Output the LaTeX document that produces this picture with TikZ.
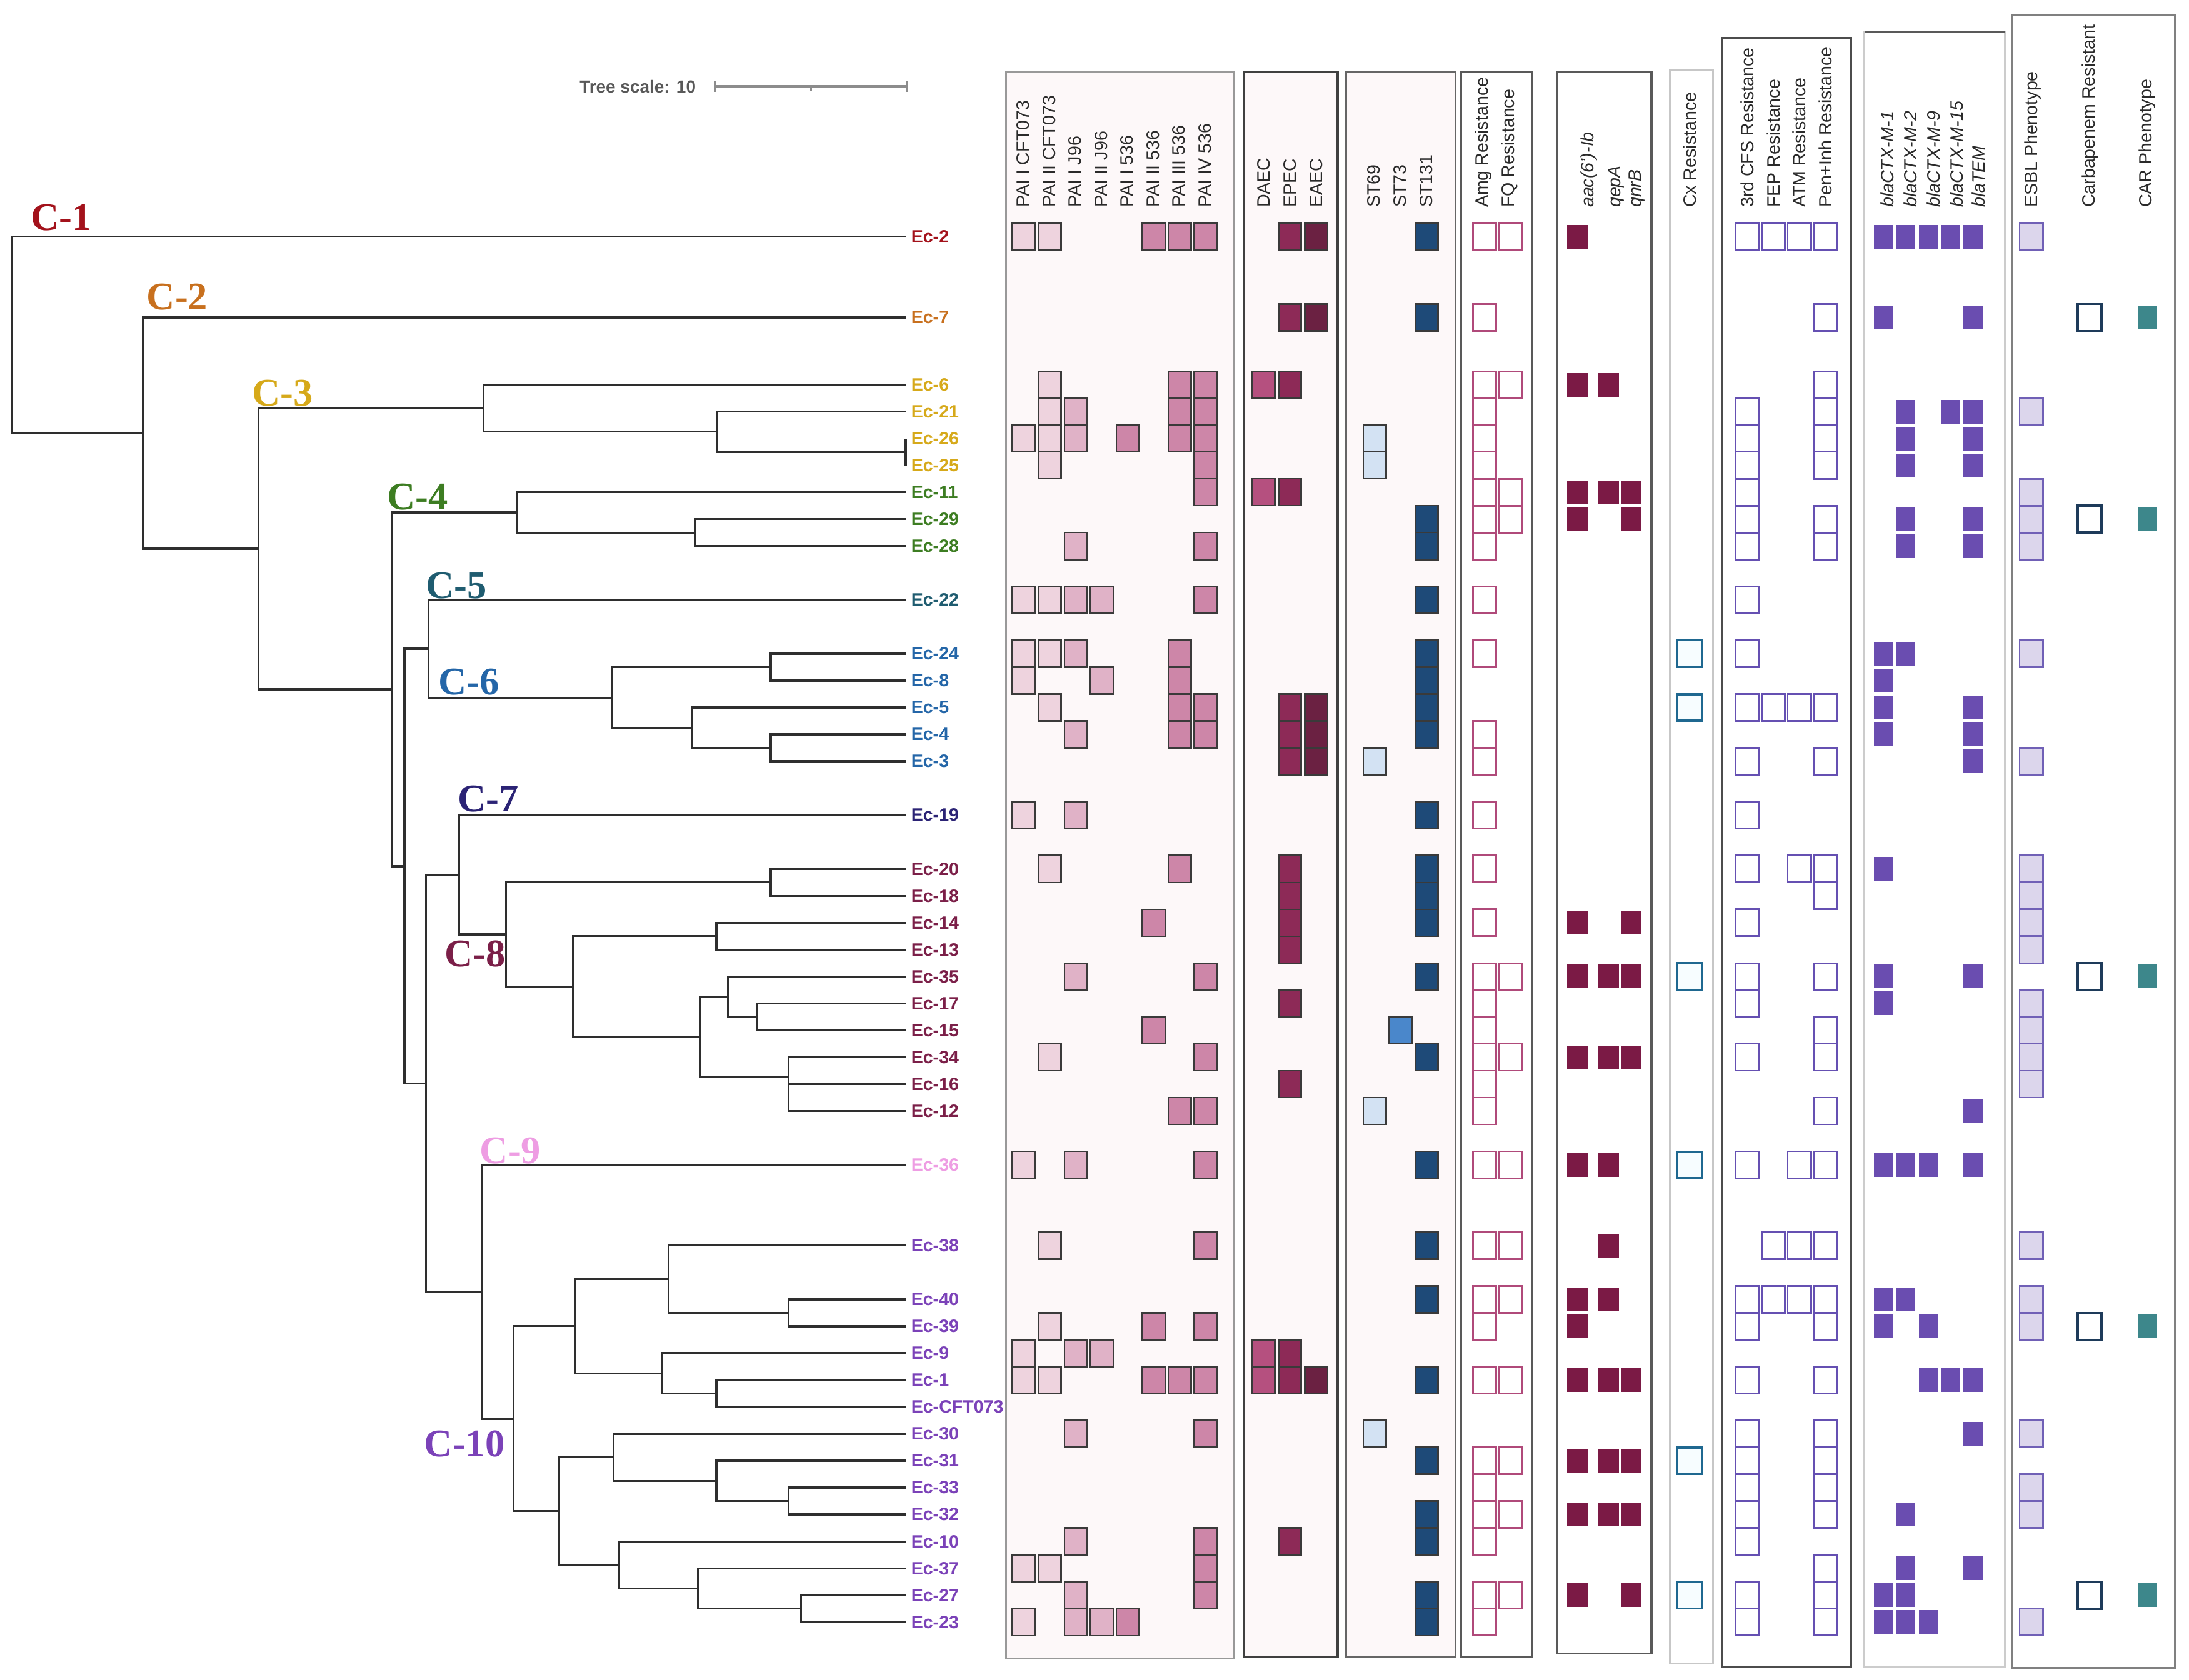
\documentclass[tikz,border=0pt]{standalone}
\usepackage{fontspec}
\setmainfont{Liberation Sans}
\newfontfamily\cserif{Liberation Serif}
\definecolor{treec}{HTML}{2E2E2E}
\definecolor{hdrc}{HTML}{2A2A2A}
\definecolor{cc1}{HTML}{A3121B}
\definecolor{cc2}{HTML}{C8701E}
\definecolor{cc3}{HTML}{D6A91A}
\definecolor{cc4}{HTML}{3D7D22}
\definecolor{cc5}{HTML}{1F5C70}
\definecolor{cc6}{HTML}{2466A8}
\definecolor{cc7}{HTML}{2B2375}
\definecolor{cc8}{HTML}{7B1F48}
\definecolor{cc9}{HTML}{EE9DE3}
\definecolor{cc10}{HTML}{7B42B8}
\definecolor{paiA}{HTML}{EED3DE}
\definecolor{paiB}{HTML}{E0B2C7}
\definecolor{paiC}{HTML}{CD86A8}
\definecolor{daec}{HTML}{B5507F}
\definecolor{epec}{HTML}{8D2A57}
\definecolor{eaec}{HTML}{6B2142}
\definecolor{stA}{HTML}{D3E2F3}
\definecolor{stB}{HTML}{4A87CB}
\definecolor{stC}{HTML}{1E4A78}
\definecolor{cellb}{HTML}{3A3A3A}
\definecolor{amgc}{HTML}{B04A7A}
\definecolor{genc}{HTML}{7B1A45}
\definecolor{cxc}{HTML}{1F6890}
\definecolor{resc}{HTML}{6550B2}
\definecolor{blac}{HTML}{6A4DB0}
\definecolor{esblf}{HTML}{DCD6EC}
\definecolor{esbld}{HTML}{7060B6}
\definecolor{carbd}{HTML}{1E3B5A}
\definecolor{carf}{HTML}{3D878B}
\definecolor{panfill}{HTML}{FDF8F9}
\begin{document}
\begin{tikzpicture}[x=1pt,y=-1pt,
  treeline/.style={line width=1.5pt, draw=treec},
  leaflab/.style={anchor=base west, inner sep=0pt, font=\fontsize{12.8}{14}\selectfont\bfseries},
  clab/.style={anchor=base west, inner sep=0pt, font=\cserif\bfseries\fontsize{28}{30}\selectfont},
  hdr/.style={rotate=90, anchor=west, inner sep=0pt, text=hdrc, font=\fontsize{12.8}{14}\selectfont},
  cellbox/.style={draw=cellb, line width=1.1pt, minimum width=16.3pt, minimum height=19.27pt, inner sep=0pt, fill=#1},
  openbox/.style={draw=#1, line width=1.2pt, fill=white, minimum width=16.7pt, minimum height=19.27pt, inner sep=0pt},
  solidbox/.style={fill=#1, draw=none, minimum width=14.7pt, minimum height=17pt, inner sep=0pt},
  panel/.style={draw=#1, line width=1.5pt}
]
\useasboundingbox (0,0) rectangle (1568,1203.5);
\fill[white] (0,0) rectangle (1568,1203.5);

% ---------- rows ----------
\foreach \n/\k in {2/-5.5, 7/-2.5, 6/0, 21/1, 26/2, 25/3, 11/4, 29/5, 28/6, 22/8, 24/10, 8/11, 5/12, 4/13, 3/14, 19/16, 20/18, 18/19, 14/20, 13/21, 35/22, 17/23, 15/24, 34/25, 16/26, 12/27, 36/29, 38/32, 40/34, 39/35, 9/36, 1/37, CFT/38, 30/39, 31/40, 33/41, 32/42, 10/43, 37/44, 27/45, 23/46}
  \coordinate (row\n) at (0,{275.6+19.27*\k});
\foreach \n in {2,7,6,21,26,25,11,29,28,22,24,8,5,4,3,19,20,18,14,13,35,17,15,34,16,12,36,38,40,39,9,1,CFT,30,31,33,32,10,37,27,23}
  \coordinate (t\n) at ([xshift=648.8pt]row\n);

% ---------- tree ----------
\coordinate (root) at (8.2,239.9);
\coordinate (n2) at (102.3,310.25);
\coordinate (n3) at (185,393.1);
\coordinate (n3a) at (346.3,292.35);
\coordinate (n3b) at (513.6,309.3);
\coordinate (n3c) at (648.8,323.78);
\coordinate (n4) at (281,493.8);
\coordinate (n4a) at (370,367.1);
\coordinate (n4b) at (498,381.6);
\coordinate (n5x) at (289.7,620.5);
\coordinate (n5) at (307,464.8);
\coordinate (n6) at (438.6,499.8);
\coordinate (n6a) at (552,477.9);
\coordinate (n6b) at (495.7,521.3);
\coordinate (n6c) at (552,535.75);
\coordinate (n7x) at (305.2,776.1);
\coordinate (n7) at (329,626.7);
\coordinate (n8) at (362.3,669.45);
\coordinate (n8a) at (552,632.1);
\coordinate (n8b) at (410.3,706.7);
\coordinate (n8c) at (513.1,670.6);
\coordinate (n8d) at (501.7,742.8);
\coordinate (n8e) at (521.3,714.2);
\coordinate (n8f) at (542.3,728.45);
\coordinate (n8g) at (564.7,771.6);
\coordinate (n9) at (345.4,925.4);
\coordinate (n10) at (367.8,1016.3);
\coordinate (n10a) at (412.1,950);
\coordinate (n10c) at (478.8,916.3);
\coordinate (n10e) at (564.7,940.4);
\coordinate (n10d) at (473.8,983.8);
\coordinate (n10f) at (513.1,998.2);
\coordinate (n10b) at (400.2,1082.5);
\coordinate (n10g) at (439.5,1044);
\coordinate (n10h) at (513.1,1060.85);
\coordinate (n10i) at (564.7,1075.3);
\coordinate (n10j) at (443.6,1121.1);
\coordinate (n10k) at (499.8,1137.9);
\coordinate (n10l) at (573.9,1152.4);
\foreach \p/\c in {root/t2, root/n2, n2/t7, n2/n3, n3/n3a, n3/n4, n3a/t6, n3a/n3b, n3b/t21, n3b/n3c, n3c/t26, n3c/t25,
  n4/n4a, n4/n5x, n4a/t11, n4a/n4b, n4b/t29, n4b/t28, n5x/n5, n5x/n7x, n5/t22, n5/n6, n6/n6a, n6/n6b, n6a/t24, n6a/t8,
  n6b/t5, n6b/n6c, n6c/t4, n6c/t3, n7x/n7, n7x/n9, n7/t19, n7/n8, n8/n8a, n8/n8b, n8a/t20, n8a/t18, n8b/n8c, n8b/n8d,
  n8c/t14, n8c/t13, n8d/n8e, n8d/n8g, n8e/t35, n8e/n8f, n8f/t17, n8f/t15, n8g/t34, n8g/t16, n8g/t12, n9/t36, n9/n10,
  n10/n10a, n10/n10b, n10a/n10c, n10a/n10d, n10c/t38, n10c/n10e, n10e/t40, n10e/t39, n10d/t9, n10d/n10f, n10f/t1, n10f/tCFT,
  n10b/n10g, n10b/n10j, n10g/t30, n10g/n10h, n10h/t31, n10h/n10i, n10i/t33, n10i/t32, n10j/t10, n10j/n10k, n10k/t37, n10k/n10l,
  n10l/t27, n10l/t23}
  \draw[treeline] (\p) |- (\c);

% leaf labels
\foreach \n/\c in {2/cc1, 7/cc2, 6/cc3, 21/cc3, 26/cc3, 25/cc3, 11/cc4, 29/cc4, 28/cc4, 22/cc5, 24/cc6, 8/cc6, 5/cc6, 4/cc6, 3/cc6, 19/cc7, 20/cc8, 18/cc8, 14/cc8, 13/cc8, 35/cc8, 17/cc8, 15/cc8, 34/cc8, 16/cc8, 12/cc8, 36/cc9, 38/cc10, 40/cc10, 39/cc10, 9/cc10, 1/cc10, 30/cc10, 31/cc10, 33/cc10, 32/cc10, 10/cc10, 37/cc10, 27/cc10, 23/cc10}
  \node[leaflab, text=\c] (lab\n) at ([xshift=652.5pt,yshift=-4.4pt]row\n) {Ec-\n};
\node[leaflab, text=cc10] (labCFT) at ([xshift=652.5pt,yshift=-4.4pt]rowCFT) {Ec-CFT073};

% clade labels
\node[clab, text=cc1] (C1) at (21.9,164.9) {C-1};
\node[clab, text=cc2] (C2) at (105,221.7) {C-2};
\node[clab, text=cc3] (C3) at (180.5,291) {C-3};
\node[clab, text=cc4] (C4) at (277,365) {C-4};
\node[clab, text=cc5] (C5) at (305,428.5) {C-5};
\node[clab, text=cc6] (C6) at (314,497.8) {C-6};
\node[clab, text=cc7] (C7) at (327.6,581.5) {C-7};
\node[clab, text=cc8] (C8) at (318.5,692.4) {C-8};
\node[clab, text=cc9] (C9) at (343.6,833.6) {C-9};
\node[clab, text=cc10] (C10) at (303.8,1043.5) {C-10};

% tree scale
\node[anchor=west, inner sep=0pt, text=black!65, font=\fontsize{12.5}{14}\selectfont\bfseries] (tslab) at (415,62) {Tree scale: 10};
\coordinate (ts0) at (512.6,62);
\coordinate (ts1) at (649.3,62);
\coordinate (tsm) at (580.8,62);
\draw[black!45, line width=1.8pt] (ts0) -- (ts1);
\draw[black!45, line width=1.3pt] ([yshift=4pt]ts0) -- ([yshift=-4pt]ts0);
\draw[black!45, line width=1.3pt] ([yshift=4pt]ts1) -- ([yshift=-4pt]ts1);
\draw[black!45, line width=1.3pt] (tsm) -- ([yshift=-3pt]tsm);

% ---------- panels ----------
\draw[panel=black!40, fill=panfill] (720.6,51.5) rectangle (884.2,1188.2);
\draw[panel=black!75, fill=panfill] (891,51.5) rectangle (958.2,1187.1);
\draw[panel=black!60, fill=panfill] (964,51.5) rectangle (1042.6,1187.1);
\draw[panel=black!65] (1046.6,51.5) rectangle (1097.5,1187.1);
\draw[panel=black!65] (1115,51.5) rectangle (1183,1184.6);
\draw[panel=black!22] (1196,50) rectangle (1227,1191.8);
\draw[panel=black!70] (1233.6,27) rectangle (1326,1193.9);
\draw[panel=black!20] (1335.5,23) rectangle (1436,1193.9);
\draw[black!65, line width=1.8pt] (1335.5,23) -- (1436,23);
\draw[panel=black!50] (1441.3,10.7) rectangle (1558,1194.9);

% ---------- headers ----------
\foreach \x/\t in {732.8/PAI I CFT073, 751.4/PAI II CFT073, 770/PAI I J96, 788.6/PAI II J96, 807.2/PAI I 536, 825.8/PAI II 536, 844.4/PAI III 536, 863/PAI IV 536, 905.3/DAEC, 923.9/EPEC, 942.6/EAEC, 983.8/ST69, 1002.8/ST73, 1021.4/ST131, 1062.6/Amg Resistance, 1081.3/FQ Resistance, 1210.5/Cx Resistance, 1251.5/3rd CFS Resistance, 1270.2/FEP Resistance, 1288.9/ATM Resistance, 1307.7/Pen+Inh Resistance, 1456/ESBL Phenotype, 1497.4/Carbapenem Resistant, 1538/CAR Phenotype}
  \node[hdr] (h\x) at (\x,148.8) {\t};
\foreach \x/\t in {1138/aac(6')-Ib, 1157.5/qepA, 1172.6/qnrB, 1352/blaCTX-M-1, 1368.5/blaCTX-M-2, 1385/blaCTX-M-9, 1401.5/blaCTX-M-15, 1417/blaTEM}
  \node[hdr] (h\x) at (\x,148.8) {\itshape\t};

% ---------- columns ----------
\foreach \cname/\cx in {a1/733.35, a2/751.95, a3/770.55, a4/789.15, a5/807.75, a6/826.35, a7/844.95, a8/863.55, d1/905, d2/923.9, d3/942.9, s1/984.7, s2/1003, s3/1021.8, g1/1063.4, g2/1082, r1/1130, r2/1152.2, r3/1168.3, x1/1210.2, p1/1251.5, p2/1270.2, p3/1288.9, p4/1307.7, b1/1349.2, b2/1365.2, b3/1381.3, b4/1397.4, b5/1413.4, e1/1455, e2/1496.8, e3/1538.6}
  \coordinate (col\cname) at (\cx,0);

% PAI panel
\foreach \n in {2,26,22,24,8,19,36,9,1,37,23} \node[cellbox=paiA] (a1-\n) at (cola1 |- row\n) {};
\foreach \n in {2,6,21,26,25,22,24,5,20,34,38,39,1,37} \node[cellbox=paiA] (a2-\n) at (cola2 |- row\n) {};
\foreach \n in {21,26,28,22,24,4,19,35,36,9,30,10,27,23} \node[cellbox=paiB] (a3-\n) at (cola3 |- row\n) {};
\foreach \n in {22,8,9,23} \node[cellbox=paiB] (a4-\n) at (cola4 |- row\n) {};
\foreach \n in {26,23} \node[cellbox=paiC] (a5-\n) at (cola5 |- row\n) {};
\foreach \n in {2,14,15,39,1} \node[cellbox=paiC] (a6-\n) at (cola6 |- row\n) {};
\foreach \n in {2,6,21,26,24,8,5,4,20,12,1} \node[cellbox=paiC] (a7-\n) at (cola7 |- row\n) {};
\foreach \n in {2,6,21,26,25,11,28,22,5,4,35,34,12,36,38,39,1,30,10,37,27} \node[cellbox=paiC] (a8-\n) at (cola8 |- row\n) {};
% pathotype panel
\foreach \n in {6,11,9,1} \node[cellbox=daec] (d1-\n) at (cold1 |- row\n) {};
\foreach \n in {2,7,6,11,5,4,3,20,18,14,13,17,16,9,1,10} \node[cellbox=epec] (d2-\n) at (cold2 |- row\n) {};
\foreach \n in {2,7,5,4,3,1} \node[cellbox=eaec] (d3-\n) at (cold3 |- row\n) {};
% ST panel
\foreach \n in {26,25,3,12,30} \node[cellbox=stA] (s1-\n) at (cols1 |- row\n) {};
\foreach \n in {15} \node[cellbox=stB] (s2-\n) at (cols2 |- row\n) {};
\foreach \n in {2,7,29,28,22,24,8,5,4,19,20,18,14,35,34,36,38,40,1,31,32,10,27,23} \node[cellbox=stC] (s3-\n) at (cols3 |- row\n) {};
% Amg / FQ
\foreach \n in {2,7,6,21,26,25,11,29,28,22,24,4,3,19,20,14,35,17,15,34,16,12,36,38,40,39,1,31,33,32,10,27,23} \node[openbox=amgc] (g1-\n) at (colg1 |- row\n) {};
\foreach \n in {2,6,11,29,35,34,36,38,40,1,31,32,27} \node[openbox=amgc] (g2-\n) at (colg2 |- row\n) {};
% genes
\foreach \n in {2,6,11,29,14,35,34,36,40,39,1,31,32,27} \node[solidbox=genc] (r1-\n) at (colr1 |- row\n) {};
\foreach \n in {6,11,35,34,36,38,40,1,31,32} \node[solidbox=genc] (r2-\n) at (colr2 |- row\n) {};
\foreach \n in {11,29,14,35,34,1,31,32,27} \node[solidbox=genc] (r3-\n) at (colr3 |- row\n) {};
% Cx
\foreach \n in {24,5,35,36,31,27} \node[draw=cxc, line width=1.6pt, fill=cyan!3, minimum width=17.7pt, minimum height=19pt, inner sep=0pt] (x1-\n) at (colx1 |- row\n) {};
% resistance
\foreach \n in {2,21,26,25,11,29,28,22,24,5,3,19,20,14,35,17,34,36,40,39,1,30,31,33,32,10,27,23} \node[openbox=resc] (p1-\n) at (colp1 |- row\n) {};
\foreach \n in {2,5,38,40} \node[openbox=resc] (p2-\n) at (colp2 |- row\n) {};
\foreach \n in {2,5,20,36,38,40} \node[openbox=resc] (p3-\n) at (colp3 |- row\n) {};
\foreach \n in {2,7,6,21,26,25,29,28,5,3,20,18,35,15,34,12,36,38,40,39,1,30,31,33,32,37,27,23} \node[openbox=resc] (p4-\n) at (colp4 |- row\n) {};
% bla genes
\foreach \n in {2,7,24,8,5,4,20,35,17,36,40,39,27,23} \node[solidbox=blac, minimum width=13.7pt] (b1-\n) at (colb1 |- row\n) {};
\foreach \n in {2,21,26,25,29,28,24,36,40,32,37,27,23} \node[solidbox=blac, minimum width=13.7pt] (b2-\n) at (colb2 |- row\n) {};
\foreach \n in {2,36,39,1,23} \node[solidbox=blac, minimum width=13.7pt] (b3-\n) at (colb3 |- row\n) {};
\foreach \n in {2,21,1} \node[solidbox=blac, minimum width=13.7pt] (b4-\n) at (colb4 |- row\n) {};
\foreach \n in {2,7,21,26,25,29,28,5,4,3,35,12,36,1,30,37} \node[solidbox=blac, minimum width=13.7pt] (b5-\n) at (colb5 |- row\n) {};
% phenotypes
\foreach \n in {2,21,11,29,28,24,3,20,18,14,13,17,15,34,16,38,40,39,30,33,32,23} \node[openbox=esbld, fill=esblf] (e1-\n) at (cole1 |- row\n) {};
\foreach \n in {7,29,35,39,27} \node[openbox=carbd, line width=1.6pt, minimum width=17pt] (e2-\n) at (cole2 |- row\n) {};
\foreach \n in {7,29,35,39,27} \node[solidbox=carf, minimum width=13.4pt] (e3-\n) at (cole3 |- row\n) {};
\end{tikzpicture}
\end{document}
